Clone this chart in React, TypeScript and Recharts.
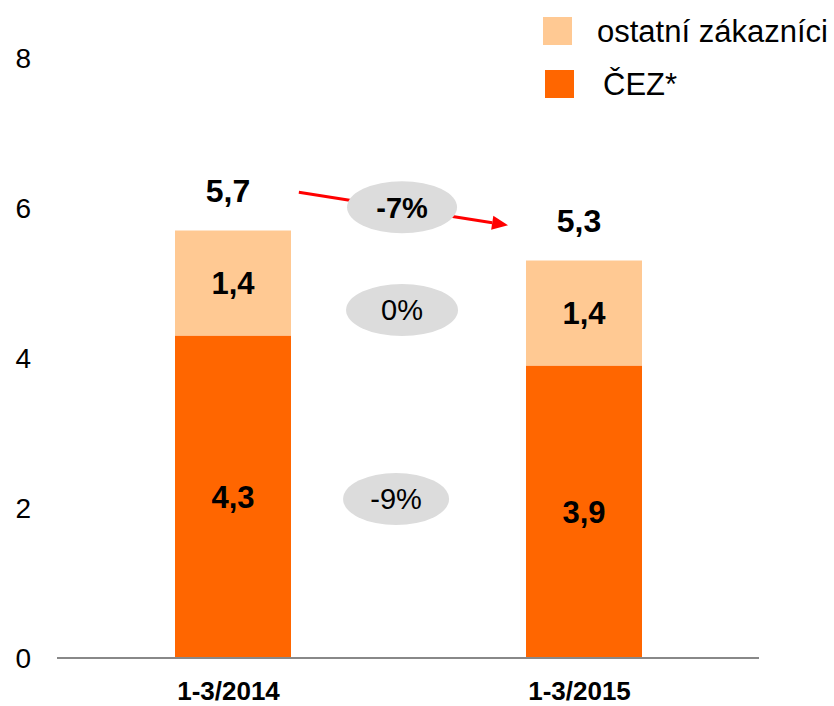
import React from "react";
import {
  BarChart,
  Bar,
  XAxis,
  YAxis,
  LabelList,
  Legend,
  ReferenceDot,
  ReferenceLine,
} from "recharts";

const categories = ["1-3/2014", "1-3/2015"];
const cezValues = [4.3, 3.9];
const ostatniValues = [1.4, 1.4];
const totals = [5.7, 5.3];
const yTicks = [0, 2, 4, 6, 8];
const changeTotal = "-7%";
const changeOstatni = "0%";
const changeCez = "-9%";

const data = categories.map((c, i) => ({
  name: c,
  cez: cezValues[i],
  ostatni: ostatniValues[i],
}));

const FONT = "'Liberation Sans', Arial, Helvetica, sans-serif";
const LIGHT = "#FFC993";
const DARK = "#FF6600";
const fmt = (v: number) => v.toFixed(1).replace(".", ",");

const YTick = (props: any) => {
  const { y, payload } = props;
  return (
    <text x={31} y={y} dy="0.36em" textAnchor="end" fontSize={28} fontFamily={FONT} fill="#000">
      {payload.value}
    </text>
  );
};

const XTick = (props: any) => {
  const { x, payload } = props;
  return (
    <text x={x - 4} y={700} textAnchor="middle" fontSize={26} fontWeight="bold" fontFamily={FONT} fill="#000">
      {payload.value}
    </text>
  );
};

const SegLabel = (props: any) => {
  const { x, y, width, height, value } = props;
  return (
    <text x={x + width / 2} y={y + height / 2} dy="0.36em" textAnchor="middle" fontSize={31} fontWeight="bold" fontFamily={FONT} fill="#000">
      {fmt(Number(value))}
    </text>
  );
};

const TotalLabel = (props: any) => {
  const { x, y, width, index } = props;
  return (
    <text x={x + width / 2 - 5} y={y - 40} dy="0.36em" textAnchor="middle" fontSize={32} fontWeight="bold" fontFamily={FONT} fill="#000">
      {fmt(totals[index])}
    </text>
  );
};

const makeBubble = (label: string, bold: boolean, rx: number) => (props: any) => {
  const { cx, cy } = props;
  return (
    <g>
      <ellipse cx={cx} cy={cy} rx={rx} ry={26} fill="#DCDCDC" />
      <text x={cx} y={cy} dy="0.36em" textAnchor="middle" fontSize={29} fontWeight={bold ? "bold" : "normal"} fontFamily={FONT} fill="#000">
        {label}
      </text>
    </g>
  );
};

const Arrow = (props: any) => {
  const { x1, y1, x2, y2 } = props;
  const dx = x2 - x1;
  const dy = y2 - y1;
  const len = Math.sqrt(dx * dx + dy * dy);
  const ux = dx / len;
  const uy = dy / len;
  const hl = 16;
  const hw = 7;
  const bx = x2 - ux * hl;
  const by = y2 - uy * hl;
  const pts = `${x2},${y2} ${bx - uy * hw},${by + ux * hw} ${bx + uy * hw},${by - ux * hw}`;
  return (
    <g>
      <line x1={x1} y1={y1} x2={bx} y2={by} stroke="#FF0000" strokeWidth={3} />
      <polygon points={pts} fill="#FF0000" />
    </g>
  );
};

const LegendContent = () => (
  <svg width={294} height={110}>
    <rect x={3} y={17} width={29} height={28} fill={LIGHT} />
    <text x={57} y={31} dy="0.36em" fontSize={31} fontFamily={FONT} fill="#000">
      ostatní zákazníci
    </text>
    <rect x={5} y={70} width={29} height={28} fill={DARK} />
    <text x={63} y={84} dy="0.36em" fontSize={31} fontFamily={FONT} fill="#000">
      ČEZ*
    </text>
  </svg>
);

export default function App() {
  return (
    <div style={{ position: "absolute", left: 0, top: 0, width: 834, height: 706, background: "#fff" }}>
      <BarChart
        width={834}
        height={706}
        data={data}
        margin={{ top: 58, right: 75, bottom: 0, left: 0 }}
      >
        <XAxis
          dataKey="name"
          height={48}
          axisLine={{ stroke: "#888888", strokeWidth: 2 }}
          tickLine={false}
          tick={<XTick />}
        />
        <XAxis xAxisId="n" type="number" domain={[0, 1]} allowDataOverflow hide />
        <YAxis
          width={57}
          domain={[0, 8]}
          ticks={yTicks}
          axisLine={false}
          tickLine={false}
          tick={<YTick />}
        />
        <Legend
          align="center"
          verticalAlign="middle"
          content={<LegendContent />}
          wrapperStyle={{ top: 0, left: 540, width: 294, height: 110 }}
        />
        <Bar dataKey="cez" stackId="a" fill={DARK} barSize={116} isAnimationActive={false}>
          <LabelList dataKey="cez" content={<SegLabel />} />
        </Bar>
        <Bar dataKey="ostatni" stackId="a" fill={LIGHT} barSize={116} isAnimationActive={false}>
          <LabelList dataKey="ostatni" content={<SegLabel />} />
          <LabelList dataKey="ostatni" content={<TotalLabel />} />
        </Bar>
        <ReferenceLine
          xAxisId="n"
          segment={[
            { x: 0.3445, y: 6.21 },
            { x: 0.6425, y: 5.77 },
          ]}
          shape={<Arrow />}
          ifOverflow="visible"
        />
        <ReferenceDot xAxisId="n" x={0.4915} y={6.01} shape={makeBubble(changeTotal, true, 55)} ifOverflow="visible" />
        <ReferenceDot xAxisId="n" x={0.4915} y={4.64} shape={makeBubble(changeOstatni, false, 56)} ifOverflow="visible" />
        <ReferenceDot xAxisId="n" x={0.483} y={2.12} shape={makeBubble(changeCez, false, 53)} ifOverflow="visible" />
      </BarChart>
    </div>
  );
}
